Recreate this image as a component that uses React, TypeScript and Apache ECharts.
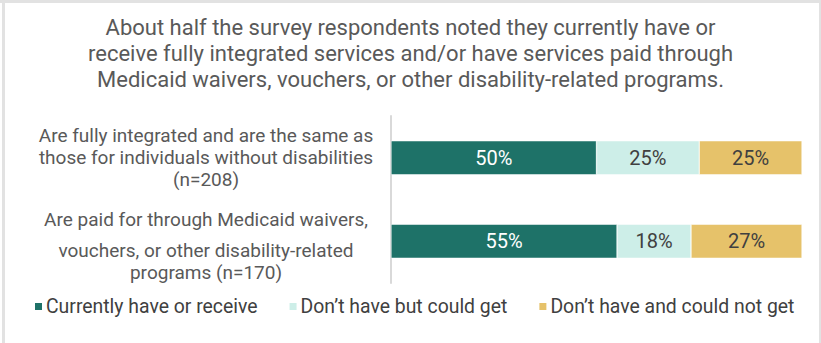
import React, { useEffect, useRef } from "react";
import * as echarts from "echarts";

const titleLines = [
  "About half the survey respondents noted they currently have or",
  "receive fully integrated services and/or have services paid through",
  "Medicaid waivers, vouchers, or other disability-related programs.",
];
const categories = [
  "Are fully integrated and are the same as\nthose for individuals without disabilities\n(n=208)",
  "Are paid for through Medicaid waivers,\nvouchers, or other disability-related\nprograms (n=170)",
];
const seriesNames = [
  "Currently have or receive",
  "Don\u2019t have but could get",
  "Don\u2019t have and could not get",
];
const currentlyHave = [50, 55];
const couldGet = [25, 18];
const couldNotGet = [25, 27];
const colors = ["#1e7268", "#cdeee8", "#e6c26a"];
const labelColors = ["#ffffff", "#404040", "#404040"];

export default function App() {
  const ref = useRef<HTMLDivElement>(null);
  useEffect(() => {
    if (!ref.current) return;
    const chart = echarts.init(ref.current, null, { renderer: "svg" });
    const values = [currentlyHave, couldGet, couldNotGet];
    chart.setOption({
      animation: false,
      backgroundColor: "#ffffff",
      title: {
        text: titleLines.join("\n"),
        left: "center",
        top: 9,
        textStyle: {
          fontFamily: "Roboto",
          fontWeight: "normal",
          fontSize: 22,
          lineHeight: 26,
          color: "#595959",
        },
      },
      graphic: [
        { type: "rect", shape: { x: 0, y: 0, width: 821, height: 3 }, style: { fill: "#e2e2e2" }, silent: true },
        { type: "rect", shape: { x: 2, y: 0, width: 3, height: 343 }, style: { fill: "#e2e2e2" }, silent: true },
        { type: "rect", shape: { x: 819, y: 0, width: 2, height: 343 }, style: { fill: "#e2e2e2" }, silent: true },
      ],
      legend: {
        left: 33,
        top: 297,
        padding: 0,
        itemWidth: 9,
        itemHeight: 9,
        itemGap: 30,
        icon: "rect",
        data: seriesNames,
        textStyle: { fontFamily: "Roboto", fontSize: 19.4, color: "#404040", padding: [0, 0, 0, -2] },
      },
      grid: { left: 391, right: 19, top: 116, height: 167 },
      xAxis: {
        type: "value",
        min: 0,
        max: 100,
        show: false,
      },
      yAxis: {
        type: "category",
        inverse: true,
        data: categories,
        axisLine: { show: true, lineStyle: { color: "#d9d9d9", width: 2 } },
        axisTick: { show: false },
        axisLabel: {
          align: "center",
          margin: 185,
          fontFamily: "Roboto",
          fontSize: 19,
          lineHeight: 22,
          color: "#595959",
          formatter: (v: string, idx: number) => {
            const lines = v.split("\n");
            if (idx === 1) {
              return `{a|${lines[0]}}\n{b|${lines[1]}}\n{b|${lines[2]}}`;
            }
            return lines.map((l) => `{b|${l}}`).join("\n");
          },
          rich: {
            a: { fontFamily: "Roboto", fontSize: 19, lineHeight: 40, color: "#595959" },
            b: { fontFamily: "Roboto", fontSize: 19, lineHeight: 22, color: "#595959" },
          },
        },
      },
      series: seriesNames.map((name, i) => ({
        name,
        type: "bar",
        stack: "total",
        barWidth: 34,
        data: values[i],
        itemStyle: { color: colors[i], borderColor: "#ffffff", borderWidth: 0.5 },
        label: {
          show: true,
          position: "inside",
          formatter: "{c}%",
          fontFamily: "Roboto",
          fontSize: 20,
          color: labelColors[i],
        },
      })),
    });
    return () => chart.dispose();
  }, []);
  return (
    <div
      ref={ref}
      style={{ position: "fixed", left: 0, top: 0, width: 821, height: 343 }}
    />
  );
}
